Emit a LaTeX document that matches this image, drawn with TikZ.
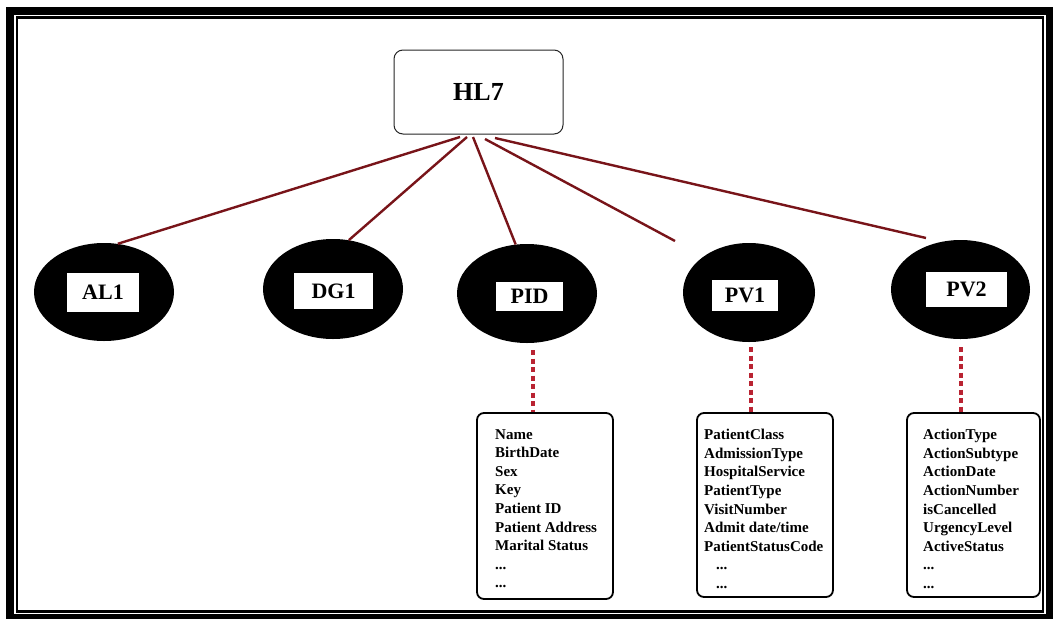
\documentclass[tikz,border=0pt]{standalone}
\usepackage{fontspec}
\setmainfont{Liberation Serif}
\usetikzlibrary{shapes.geometric}
\definecolor{linkred}{RGB}{120,20,25}
\definecolor{dashred}{RGB}{185,35,50}
\begin{document}
\begin{tikzpicture}[x=1pt,y=-1pt,
  seg/.style={ellipse, fill=black, draw=none, inner sep=0pt},
  tag/.style={fill=white, inner sep=0pt, font=\fontsize{22}{22}\selectfont\bfseries},
  link/.style={draw=linkred, line width=2.4pt},
  dashlink/.style={draw=dashred, line width=3.2pt, dash pattern=on 5pt off 3.5pt},
  fieldbox/.style={draw=black, line width=1.8pt, rounded corners=7pt, inner sep=0pt},
  fields/.style={anchor=north west, inner sep=0pt, align=left,
                 font=\fontsize{15}{18.6}\selectfont\bfseries}
]
\useasboundingbox (0,0) rectangle (1053,619);

% double frame
\fill[black] (6,7) rectangle (1053,619);
\fill[white] (14,15) rectangle (1046,614);
\draw[line width=2.5pt] (17,17.5) rectangle (1043,611.5);

% root message
\node[draw=black!85, line width=1pt, rounded corners=9pt, minimum width=169pt,
      minimum height=84pt, inner sep=0pt, font=\fontsize{26}{26}\selectfont\bfseries]
      (hl7) at (478.5,92) {HL7};

% segments
\node[seg, minimum width=140pt, minimum height=98pt] (al1) at (104,292) {};
\node[tag, minimum width=72pt, minimum height=39pt] (al1t) at (103,292.5) {AL1};

\node[seg, minimum width=140pt, minimum height=100pt] (dg1) at (333,289) {};
\node[tag, minimum width=79pt, minimum height=36pt] (dg1t) at (333.5,291) {DG1};

\node[seg, minimum width=140pt, minimum height=99pt] (pid) at (527,293.5) {};
\node[tag, minimum width=67pt, minimum height=29pt] (pidt) at (529.5,296.5) {PID};

\node[seg, minimum width=132pt, minimum height=99pt] (pv1) at (749,292.5) {};
\node[tag, minimum width=66pt, minimum height=31pt] (pv1t) at (745,295.5) {PV1};

\node[seg, minimum width=139pt, minimum height=99pt] (pv2) at (960.5,289.5) {};
\node[tag, minimum width=81pt, minimum height=35pt] (pv2t) at (966.5,289.5) {PV2};

% connectors from the root
\coordinate (s1) at (460,137);
\coordinate (s2) at (467,137);
\coordinate (s3) at (473,137);
\coordinate (s4) at (485,139);
\coordinate (s5) at (495,138);
\coordinate (e4) at (675,241);
\coordinate (e5) at (926,238);
\draw[link] (s1) -- (al1.74);
\draw[link] (s2) -- (dg1.72);
\draw[link] (s3) -- (pid.103);
\draw[link] (s4) -- (e4);
\draw[link] (s5) -- (e5);

% field lists
\node[fieldbox, minimum width=136pt, minimum height=186pt] (pidbox) at (545,506) {};
\node[fields] (pidlist) at (495,429) {Name\\BirthDate\\Sex\\Key\\Patient ID\\Patient Address\\Marital Status\\...\\...};

\node[fieldbox, minimum width=136pt, minimum height=184pt] (pv1box) at (765,505) {};
\node[fields] (pv1list) at (704,429) {PatientClass\\AdmissionType\\HospitalService\\PatientType\\VisitNumber\\Admit date/time\\PatientStatusCode\\\hspace*{12pt}...\\\hspace*{12pt}...};

\node[fieldbox, minimum width=133pt, minimum height=184pt] (pv2box) at (973.5,505) {};
\node[fields] (pv2list) at (923,429) {ActionType\\ActionSubtype\\ActionDate\\ActionNumber\\isCancelled\\UrgencyLevel\\ActiveStatus\\...\\...};

% dashed links to the field lists
\coordinate (d1) at (533,350);
\coordinate (d2) at (751,347);
\coordinate (d3) at (961,347);
\draw[dashlink] (d1) -- (d1 |- pidbox.north);
\draw[dashlink] (d2) -- (d2 |- pv1box.north);
\draw[dashlink] (d3) -- (d3 |- pv2box.north);
\end{tikzpicture}
\end{document}
